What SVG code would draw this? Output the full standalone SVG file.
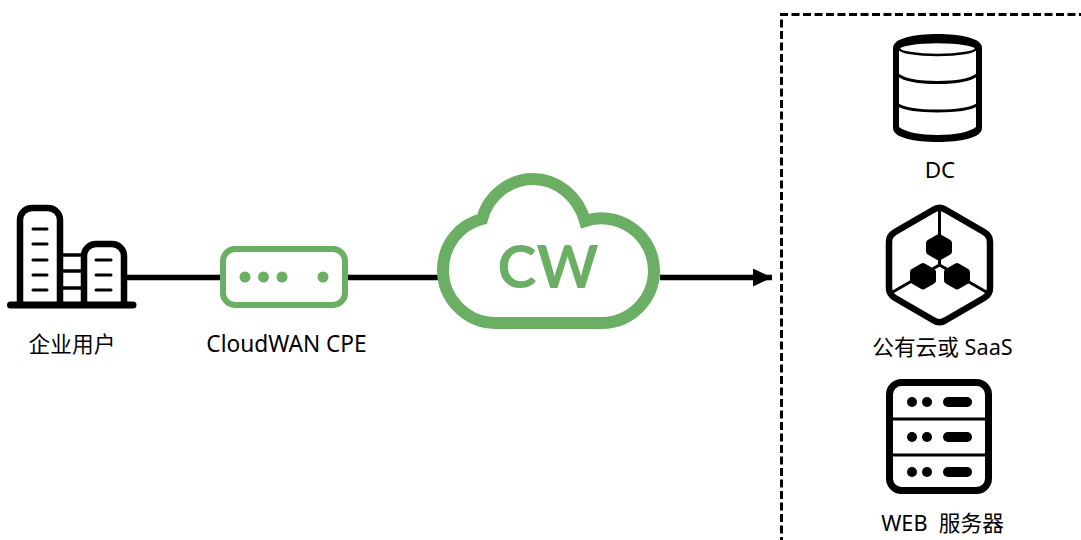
<svg xmlns="http://www.w3.org/2000/svg" width="1081" height="540" viewBox="0 0 1081 540">
<defs>
<style>
.lbl{font-family:"Noto Sans","Noto Sans CJK SC",sans-serif;font-size:21.700px;fill:#000;text-anchor:middle;white-space:pre}
.k{fill:none;stroke:#000;stroke-linejoin:round;stroke-linecap:round}
.g{fill:none;stroke:#6aaf64}
.gf{fill:#6aaf64}
.wire{fill:none;stroke:#000;stroke-width:5.500}
.hx{fill:#000;stroke:#000;stroke-width:7;stroke-linejoin:round}
</style>
<marker id="arrow" markerUnits="userSpaceOnUse" markerWidth="19" markerHeight="18" refX="19" refY="9" orient="auto"><path d="M0 0L19 9L0 18Z" fill="#000"/></marker>
</defs>
<rect width="1081" height="540" fill="#fff"/>
<g id="connectors">
<path class="wire" d="M127 277.500H220"/>
<path class="wire" d="M348 277.500H438"/>
<path class="wire" d="M660 277.500H772" marker-end="url(#arrow)"/>
</g>
<g id="target-zone"><path d="M781.500 545V14.500H1085" fill="none" stroke="#000" stroke-width="3" stroke-dasharray="8 3.500"/></g>
<g id="enterprise-user">
<path class="k" stroke-width="6.500" d="M20 305V220A12 12 0 0 1 32 208H48A12 12 0 0 1 60 220V305"/>
<path class="k" stroke-width="6.500" d="M84 305V256A12 12 0 0 1 96 244H112A12 12 0 0 1 124 256V305"/>
<path class="k" stroke-width="7" d="M10.500 305H133"/>
<path class="k" stroke-width="3" d="M33 229H47M33 244H47M33 260H47M33 275H47M33 290H47M96 260H111M96 275H111M96 290H111"/>
<path fill="none" stroke="#000" stroke-width="3.500" d="M63 255H81M63 271H81M63 288H81"/>
<text class="lbl" x="72" y="352">企业用户</text>
</g>
<g id="cpe">
<rect class="g" x="223" y="249" width="122" height="56" rx="12" stroke-width="6" fill="#fff"/>
<circle class="gf" cx="245" cy="277" r="5.500"/><circle class="gf" cx="263.500" cy="277" r="5.500"/><circle class="gf" cx="282" cy="277" r="5.500"/><circle class="gf" cx="323" cy="277" r="5.500"/>
<text class="lbl" x="286.500" y="352" style="font-size:22.700px">CloudWAN CPE</text>
</g>
<g id="cloudwan">
<path class="g" stroke-width="12" fill="#fff" d="M495 323H602A52.500 52.500 0 0 0 654 270A52.500 52.500 0 0 0 585 221C578 196 557 179 533 179C509 179 488 196 482 219C459 225 443 245 443 270A53 53 0 0 0 495 323Z"/>
<text x="548" y="288" font-family="Lato,sans-serif" font-size="59" font-weight="700" fill="#6aaf64" text-anchor="middle">CW</text>
</g>
<g id="dc">
<path d="M893 48C893 38 915 34 937.500 34C960 34 982 38 982 48V128C982 138 960 142 937.500 142C915 142 893 138 893 128Z" fill="#000"/>
<path d="M899 48V127C905 132 920 135 937.500 135C955 135 970 132 976 127V48Z" fill="#fff"/>
<ellipse cx="937.500" cy="48.500" rx="38.500" ry="6.500" fill="#fff" stroke="#000" stroke-width="2.500"/>
<path fill="none" stroke="#000" stroke-width="3" d="M898 75C905 80 920 82.500 937.500 82.500C955 82.500 970 80 977 75M898 105C905 109 920 111 937.500 111C955 111 970 109 977 105"/>
<text class="lbl" x="940" y="178" style="font-size:22.500px">DC</text>
</g>
<g id="saas">
<path class="k" stroke-width="6.500" d="M933 210Q939.500 205.500 946 210L984 232Q990 235.500 990 242V288Q990 294.500 984 298L946 320Q939.500 324.500 933 320L895 298Q889 294.500 889 288V242Q889 235.500 895 232Z"/>
<path fill="none" stroke="#000" stroke-width="3" d="M939.500 208V265M891 293L939.500 265L988 293"/>
<path class="hx" d="M939 237.500L948.500 243V251.500L939 257L929.500 251.500V243Z"/>
<path class="hx" d="M923 266.500L932.500 272V280.500L923 286L913.500 280.500V272Z"/>
<path class="hx" d="M957 266.500L966.500 272V280.500L957 286L947.500 280.500V272Z"/>
<text class="lbl" x="942.500" y="355">公有云或 SaaS</text>
</g>
<g id="web-server">
<rect x="889.500" y="382.500" width="99" height="108" rx="12" fill="none" stroke="#000" stroke-width="7"/>
<path fill="none" stroke="#000" stroke-width="3" d="M890 419H988M890 455H988"/>
<g fill="#000">
<circle cx="912" cy="402" r="5"/><circle cx="927" cy="402" r="5"/><rect x="943" y="397" width="29" height="10" rx="5"/>
<circle cx="912" cy="437" r="5"/><circle cx="927" cy="437" r="5"/><rect x="943" y="432" width="29" height="10" rx="5"/>
<circle cx="912" cy="472" r="5"/><circle cx="927" cy="472" r="5"/><rect x="943" y="467" width="29" height="10" rx="5"/>
</g>
<text class="lbl" x="942.500" y="531">WEB  服务器</text>
</g>
</svg>
